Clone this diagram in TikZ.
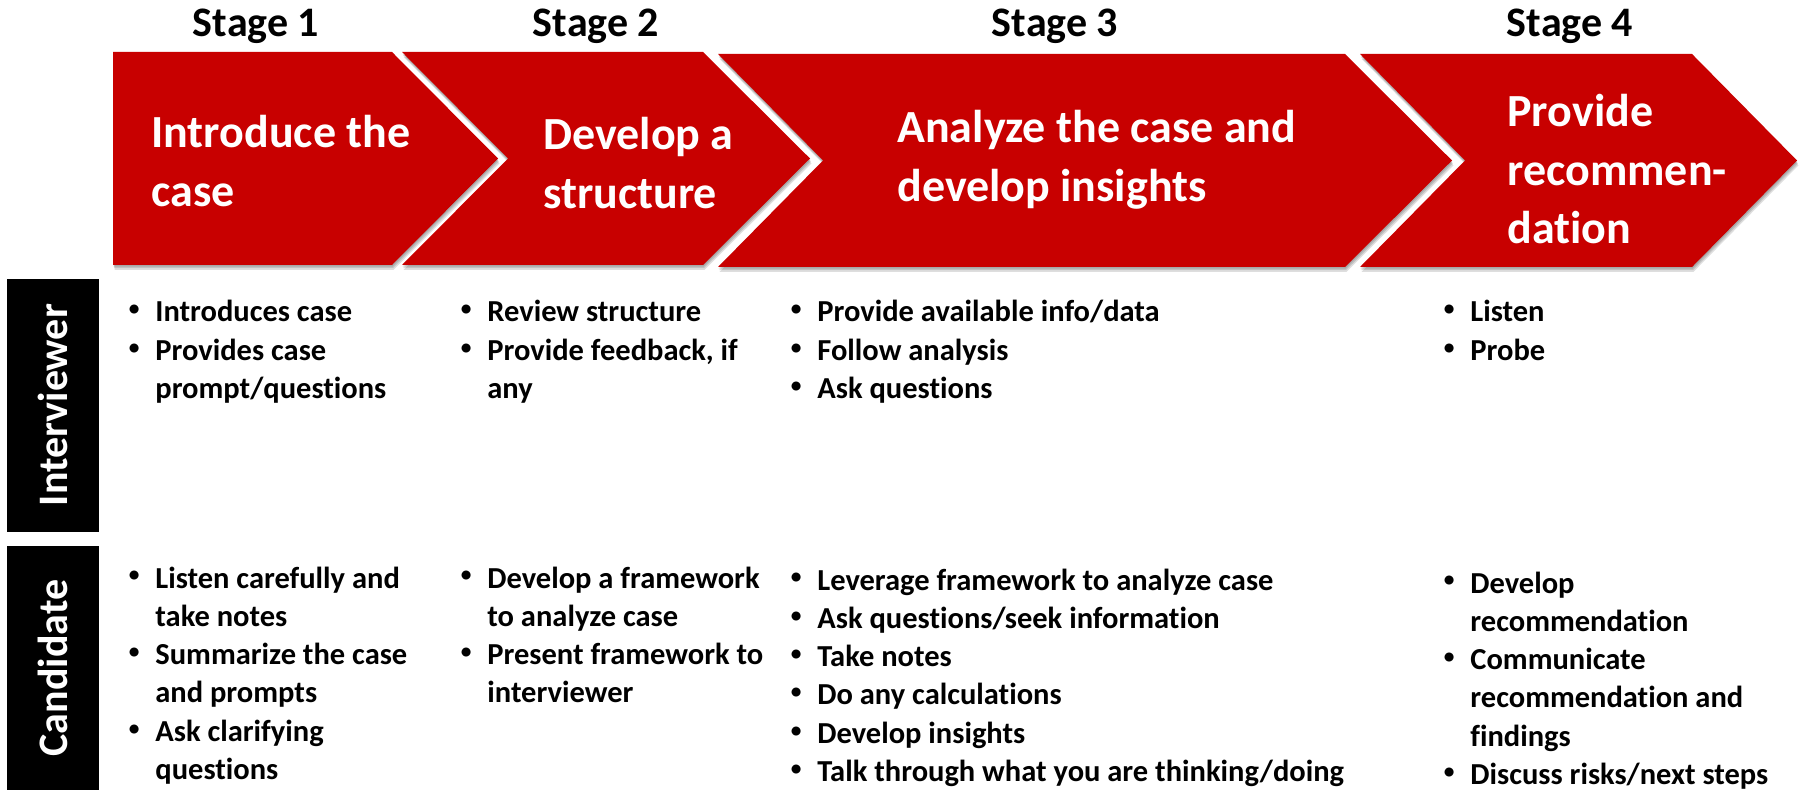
\documentclass[tikz,border=0pt]{standalone}
\usepackage{graphicx}
\usepackage{fontspec}
\setmainfont{Carlito}[Ligatures=NoCommon]
\definecolor{cred}{RGB}{200,0,0}
\newcommand\bi[1]{\hbox{\llap{\raisebox{3.1pt}{\scalebox{0.7}{\textbullet}}\hskip 8pt}#1}}
\newcommand\bc[1]{\hbox{#1}}
% left, shoulder, tip, notch, top, bottom, style
\newcommand\chevp[7]{\fill[#7] (#1,#5) -- (#2,#5) -- (#3,{(#5+#6)/2}) -- (#2,#6) -- (#1,#6) -- (#4,{(#5+#6)/2}) -- cycle;}
\begin{document}
\begin{tikzpicture}[x=0.5pt,y=-0.5pt,
  stagelbl/.style={font=\bfseries\fontsize{21pt}{25pt}\selectfont, anchor=base, inner sep=0},
  chevtext/.style={font=\bfseries\fontsize{23pt}{29.25pt}\selectfont, text=white, anchor=base west, inner sep=0},
  blist/.style={font=\bfseries\fontsize{15.25pt}{19.15pt}\selectfont, anchor=base west, inner sep=0},
  sidebox/.style={fill=black},
  sidelbl/.style={font=\bfseries\fontsize{21pt}{25pt}\selectfont, text=white, rotate=90, inner sep=0},
  chev/.style={fill=cred},
  shade/.style={fill=black, opacity=0.13}]
\useasboundingbox (0,0) rectangle (1802,790);
% shadows
\foreach \s in {1,2,3}{
  \chevp{113}{392}{498}{113}{52}{265}{shade,shift={(0.5*\s,1.6*\s)}}
  \chevp{402}{703}{810}{508}{52}{265}{shade,shift={(0.5*\s,1.6*\s)}}
  \chevp{718}{1345}{1452}{823}{54}{267}{shade,shift={(0.5*\s,1.6*\s)}}
  \chevp{1360}{1692}{1797}{1465}{54}{267}{shade,shift={(0.5*\s,1.6*\s)}}
}
% chevrons
\chevp{113}{392}{498}{113}{52}{265}{chev}
\chevp{402}{703}{810}{508}{52}{265}{chev}
\chevp{718}{1345}{1452}{823}{54}{267}{chev}
\chevp{1360}{1692}{1797}{1465}{54}{267}{chev}
% stage labels
\node[stagelbl] (s1) at (256,37) {Stage 1};
\node[stagelbl] (s2) at (596,37) {Stage 2};
\node[stagelbl] (s3) at (1055,37) {Stage 3};
\node[stagelbl] (s4) at (1570,37) {Stage 4};
% chevron texts
\node[chevtext] (t1) at (151,148) {\vtop{\bc{Introduce the}\bc{case}}};
\node[chevtext] (t2) at (543,150) {\vtop{\bc{Develop a}\bc{structure}}};
\node[chevtext] (t3) at (897,143) {\vtop{\bc{Analyze the case and}\bc{develop insights}}};
\node[chevtext] (t4) at (1507,127) {\vtop{\bc{Provide}\bc{recommen-}\bc{dation}}};
% side boxes
\fill[sidebox] (7,279) rectangle (99,532);
\fill[sidebox] (7,546) rectangle (99,790);
\node[sidelbl] (li) at (53,405) {Interviewer};
\node[sidelbl] (lc) at (53,668) {Candidate};
% interviewer row
\node[blist] (i1) at (155,322) {\vtop{\bi{Introduces case}\bi{Provides case}\bc{prompt/questions}}};
\node[blist] (i2) at (487,322) {\vtop{\bi{Review structure}\bi{Provide feedback, if}\bc{any}}};
\node[blist] (i3) at (817,322) {\vtop{\bi{Provide available info/data}\bi{Follow analysis}\bi{Ask questions}}};
\node[blist] (i4) at (1470,322) {\vtop{\bi{Listen}\bi{Probe}}};
% candidate row
\node[blist] (c1) at (155,588) {\vtop{\bi{Listen carefully and}\bc{take notes}\bi{Summarize the case}\bc{and prompts}\bi{Ask clarifying}\bc{questions}}};
\node[blist] (c2) at (487,588) {\vtop{\bi{Develop a framework}\bc{to analyze case}\bi{Present framework to}\bc{interviewer}}};
\node[blist] (c3) at (817,590) {\vtop{\bi{Leverage framework to analyze case}\bi{Ask questions/seek information}\bi{Take notes}\bi{Do any calculations}\bi{Develop insights}\bi{Talk through what you are thinking/doing}}};
\node[blist] (c4) at (1470,593) {\vtop{\bi{Develop}\bc{recommendation}\bi{Communicate}\bc{recommendation and}\bc{findings}\bi{Discuss risks/next steps}}};
\end{tikzpicture}
\end{document}
